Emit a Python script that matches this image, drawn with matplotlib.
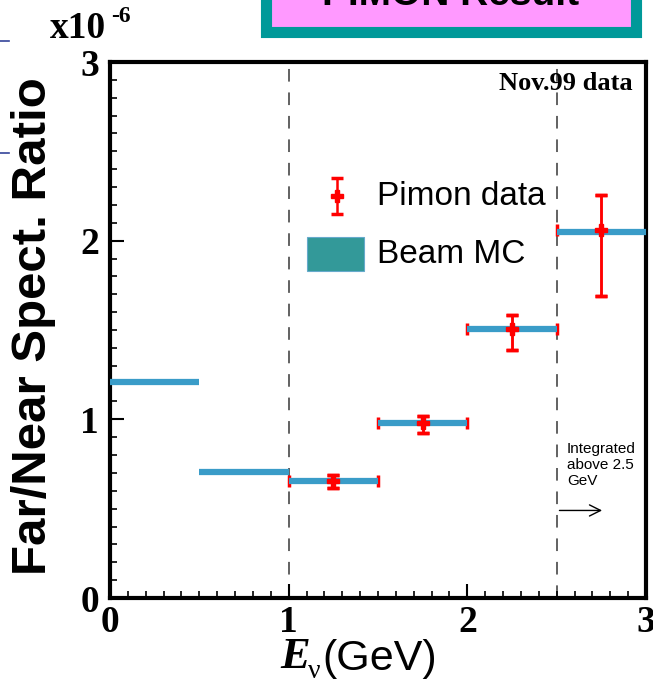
import matplotlib
matplotlib.use("Agg")
import matplotlib.pyplot as plt
from matplotlib.patches import Rectangle
from matplotlib.lines import Line2D

# ---- data ----
bin_lo = [0.0, 0.5, 1.0, 1.5, 2.0, 2.5]
bin_hi = [0.5, 1.0, 1.5, 2.0, 2.5, 3.0]
mc_ratio = [1.21, 0.705, 0.655, 0.98, 1.505, 2.05]

data_x = [1.25, 1.75, 2.25, 2.75]
data_y = [0.655, 0.98, 1.505, 2.06]
data_yerr_lo = [0.04, 0.056, 0.115, 0.37]
data_yerr_hi = [0.035, 0.04, 0.078, 0.196]
data_xerr = [0.25, 0.25, 0.25, 0.25]

xticks = [0, 1, 2, 3]
yticks = [0, 1, 2, 3]

W, H = 653, 687
fig = plt.figure(figsize=(W / 100, H / 100), dpi=100)
ax = fig.add_axes([110 / W, 1 - 598 / H, 536 / W, 536 / H])

serif = "Liberation Serif"
sans = "Liberation Sans"

mc_col = "#3a9cc8"
red = "#ff0000"
yerr = [data_yerr_lo, data_yerr_hi]

# data error bars (drawn under MC lines)
ax.errorbar(data_x, data_y, xerr=data_xerr, yerr=yerr, fmt="none",
            ecolor=red, elinewidth=1.8, capsize=4, capthick=2.5, zorder=2)
# MC bins
for lo, hi, v in zip(bin_lo, bin_hi, mc_ratio):
    ax.plot([lo, hi], [v, v], color=mc_col, lw=4.5, solid_capstyle="butt", zorder=3)
# data markers on top
ax.errorbar(data_x, data_y, yerr=yerr, fmt="P", color=red, ms=8,
            ecolor=red, elinewidth=1.8, capsize=4, capthick=2.5, zorder=4)

# dashed verticals
for xv in [1.0, 2.5]:
    ax.axvline(xv, color="#555555", lw=1.3, ls=(0, (7, 6)), zorder=1)

ax.set_xlim(0, 3)
ax.set_ylim(0, 3)
ax.set_xticks(xticks)
ax.set_yticks(yticks)
ax.set_xticklabels([str(t) for t in xticks], fontfamily=serif, fontweight="bold", fontsize=27)
ax.set_yticklabels([str(t) for t in yticks], fontfamily=serif, fontweight="bold", fontsize=27)
ax.set_xticks([i * 0.1 for i in range(31)], minor=True)
ax.set_yticks([i * 0.1 for i in range(31)], minor=True)
ax.tick_params(which="major", direction="in", length=10, width=1.5,
               top=False, right=False)
ax.tick_params(which="minor", direction="in", length=5, width=1.2, top=False, right=False)
ax.tick_params(axis="x", which="major", pad=5)
ax.tick_params(axis="y", which="major", pad=8)
for s in ax.spines.values():
    s.set_linewidth(3)
    s.set_color("black")

# in-axes texts
fig.text(633 / W, 1 - 84 / H, "Nov.99 data", ha="right", va="center",
         fontfamily=serif, fontweight="bold", fontsize=19, zorder=0.5)
ax.text(2.557, 0.875, "Integrated\nabove 2.5\nGeV", fontfamily=sans, fontsize=11,
        ha="left", va="top", linespacing=1.2)
ax.annotate("", xy=(2.77, 0.49), xytext=(2.5, 0.49),
            arrowprops=dict(arrowstyle="->", lw=1.0, color="black", mutation_scale=20))

# legend (manual)
ax.errorbar([1.27], [2.25], yerr=[0.1], fmt="P", color=red, ms=8, ecolor=red,
            elinewidth=1.8, capsize=4, capthick=2.5, zorder=5)
ax.text(1.494, 2.245, "Pimon data", fontfamily=sans, fontsize=24, va="center", ha="left")
ax.add_patch(Rectangle((1.10, 1.83), 0.32, 0.19, facecolor="#339999",
                       edgecolor="#66aacc", lw=0.8, zorder=5))
ax.text(1.494, 1.92, "Beam MC", fontfamily=sans, fontsize=24, va="center", ha="left")

# y label
fig.text(34 / W, 1 - 326 / H, "Far/Near Spect. Ratio", rotation=90, ha="center",
         va="center", fontfamily=sans, fontweight="bold", fontsize=35.5)
# multiplier
fig.text(50 / W, 1 - 38 / H, "x10", fontfamily=serif, fontweight="bold",
         fontsize=27, ha="left", va="baseline")
fig.text(111 / W, 1 - 22 / H, "-6", fontfamily=serif, fontweight="bold",
         fontsize=17, ha="left", va="baseline")
# x label
fig.text(280 / W, 1 - 668 / H, "E", fontfamily=serif, fontweight="bold", style="italic",
         fontsize=32, ha="left", va="baseline")
fig.text(308 / W, 1 - 678 / H, "ν", fontfamily=serif, fontsize=20, ha="left", va="baseline")
fig.text(322 / W, 1 - 670 / H, "(GeV)", fontfamily=sans, fontsize=31, ha="left", va="baseline")

# PIMON Result box at top (cut off)
fig.patches.append(Rectangle((266 / W, 1 - 32 / H), 370 / W, 60 / H, transform=fig.transFigure,
                             facecolor="#ff99ff", edgecolor="#009999", lw=8, figure=fig))
fig.text(451 / W, 1 - 5 / H, "PIMON Result", fontfamily=sans, fontweight="bold",
         fontsize=28, ha="center", va="baseline")
# left slide remnants
fig.add_artist(Line2D([0, 9 / W], [1 - 41 / H, 1 - 41 / H], color="#334499", lw=1.2))
fig.add_artist(Line2D([0, 9 / W], [1 - 153 / H, 1 - 153 / H], color="#334499", lw=1.2))

fig.savefig("out.png", dpi=100)
